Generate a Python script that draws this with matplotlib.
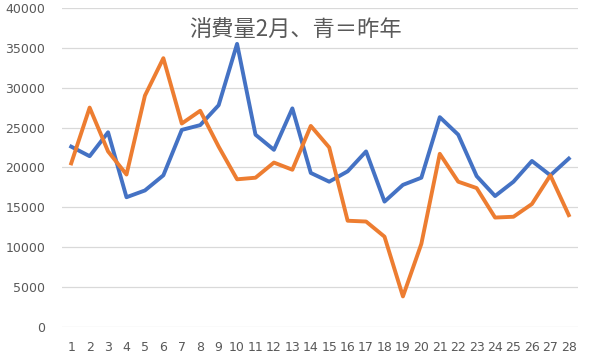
import matplotlib
matplotlib.use("Agg")
from matplotlib import pyplot as plt

plt.rcParams['font.family'] = ['Noto Sans CJK JP', 'DejaVu Sans']

days = list(range(1, 29))

# blue = last year
last_year = [22600, 21400, 24400, 16250, 17100, 19000, 24700, 25300, 27800, 35500,
             24100, 22200, 27400, 19300, 18200, 19500, 22000, 15700, 17800, 18700,
             26300, 24100, 18900, 16400, 18200, 20800, 19000, 21100]
# orange = this year
this_year = [20500, 27500, 22000, 19100, 29000, 33700, 25500, 27100, 22600, 18500,
             18700, 20600, 19700, 25200, 22500, 13300, 13200, 11300, 3800, 10400,
             21700, 18200, 17400, 13700, 13800, 15400, 19000, 14000]

yticks = list(range(0, 40001, 5000))

fig = plt.figure(figsize=(5.94, 3.58), dpi=100)
ax = fig.add_axes([62 / 594, 1 - 326.7 / 358, 516 / 594, 318.7 / 358])

ax.plot(days, last_year, color="#4472C4", lw=2.8, solid_joinstyle="round")
ax.plot(days, this_year, color="#ED7D31", lw=2.8, solid_joinstyle="round")

ax.set_xlim(0.5, 28.5)
ax.set_ylim(0, 40000)
ax.set_xticks(days)
ax.set_yticks(yticks)
ax.grid(axis="y", color="#D9D9D9", lw=0.9)
ax.set_axisbelow(True)
for s in ax.spines.values():
    s.set_visible(False)
ax.tick_params(length=0, colors="#595959", labelsize=9)
ax.tick_params(axis="x", pad=10)
ax.tick_params(axis="y", pad=12)
for lbl in ax.get_xticklabels() + ax.get_yticklabels():
    lbl.set_family(['DejaVu Sans'])

fig.text(296 / 594, 1 - 30 / 358, "消費量2月、青＝昨年", ha="center", va="center",
         fontsize=16, color="#595959")

fig.savefig("out.png", dpi=100)
